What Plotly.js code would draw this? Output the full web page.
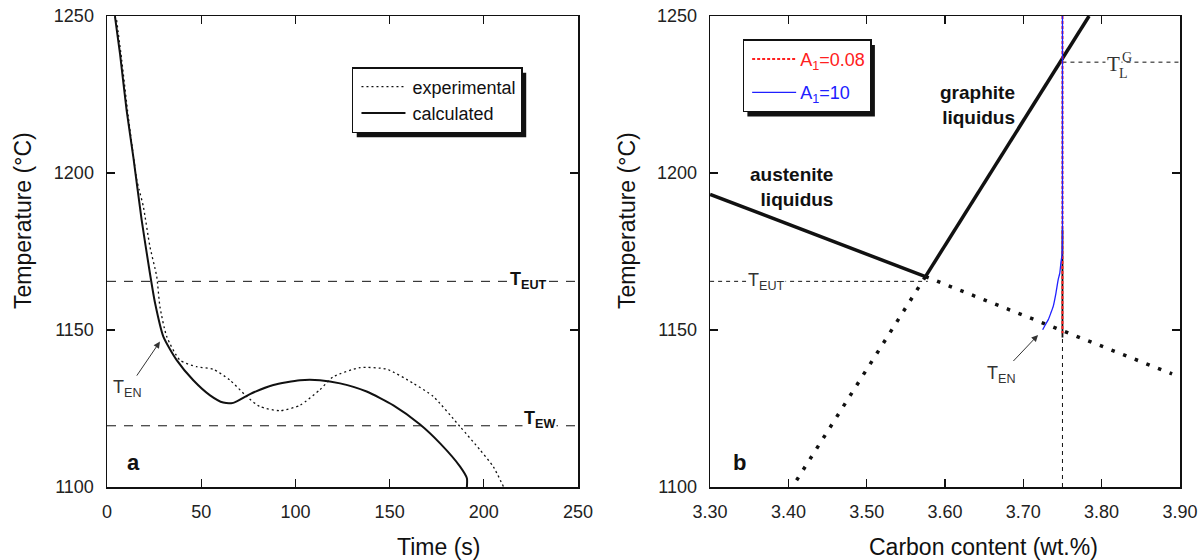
<!DOCTYPE html>
<html>
<head>
<meta charset="utf-8">
<script src="https://cdn.plot.ly/plotly-3.0.1.min.js"></script>
<style>html,body{margin:0;padding:0;background:#fff;}#chart{width:1204px;height:560px;}</style>
</head>
<body>
<div id="chart"></div>
<script>
// ---------- Panel a: cooling curves ----------
var timeTicks = [0, 50, 100, 150, 200, 250];
var tempTicks = [1100, 1150, 1200, 1250];

var expTime = [5.1, 7.8, 11.3, 15.8, 17.1, 19.3, 22.8, 26.4, 28.1, 31.7, 38.7, 47.6, 56.4, 65.3, 74.2, 81.2, 91.8, 102.4, 113.0, 120.1, 134.3, 148.5, 162.6, 173.2, 187.4, 198.0, 205.0, 210.5];
var expTemp = [1248.7, 1236, 1217.9, 1197.8, 1194.6, 1189.3, 1176.5, 1167, 1157.4, 1147.9, 1140.4, 1138.3, 1137.5, 1134, 1128.8, 1125.6, 1124.3, 1126, 1131, 1135.1, 1138, 1137.5, 1133, 1128.8, 1119.2, 1111.8, 1106.5, 1100];

var calcTime = [4.2, 6.9, 10.4, 14.0, 18.4, 22.8, 25.5, 29.9, 37.0, 45.8, 54.7, 61.7, 67.0, 75.9, 88.3, 102.4, 113.0, 123.7, 137.8, 152.0, 166.0, 176.8, 187.4, 191.0, 191.0];
var calcTemp = [1250, 1238, 1220, 1205, 1185, 1168, 1158.6, 1147.9, 1140.4, 1134, 1129.2, 1126.9, 1126.8, 1129.6, 1132.5, 1134, 1134, 1133, 1130.4, 1126, 1120, 1113.9, 1106.5, 1102.8, 1100];

var timeSpan = [0, 250];
var tEUT = 1165.5;
var tEW = 1119.5;

// ---------- Panel b: phase diagram ----------
var carbonTicks = [3.3, 3.4, 3.5, 3.6, 3.7, 3.8, 3.9];
var carbonTickText = ['3.30', '3.40', '3.50', '3.60', '3.70', '3.80', '3.90'];

var austC = [3.30, 3.575];
var austT = [1193.2, 1167];
var austExtC = [3.575, 3.89];
var austExtT = [1167, 1136];
var graphC = [3.575, 3.784];
var graphT = [1167, 1250];
var graphExtC = [3.575, 3.405];
var graphExtT = [1167, 1100];

var eutC = [3.30, 3.578];
var eutT = [1165.5, 1165.5];
var tlgC = [3.75, 3.90];
var tlgT = [1235.3, 1235.3];
var vertC = [3.75, 3.75];
var vertT = [1100, 1235.3];

var a008C = [3.75, 3.75];
var a008T = [1250, 1149];
var a10C = [3.75, 3.75, 3.7495, 3.7481, 3.7465, 3.7446, 3.7415, 3.7383, 3.7350, 3.7319, 3.7280, 3.7247];
var a10T = [1250, 1180, 1174, 1171.6, 1168, 1166.1, 1161.5, 1157.6, 1155.3, 1153.3, 1151.6, 1150.1];
var blackC = [3.75, 3.75];
var blackT = [1182, 1147.6];

var FONT = '"Liberation Sans", Arial, Helvetica, sans-serif';
var SERIF = '"Liberation Serif", "Times New Roman", serif';
var INK = '#111';

var data = [
  // panel a
  {x: timeSpan, y: [tEUT, tEUT], xaxis: 'x', yaxis: 'y', mode: 'lines', showlegend: false, hoverinfo: 'skip',
   line: {color: INK, width: 1, dash: '9px,8px'}},
  {x: timeSpan, y: [tEW, tEW], xaxis: 'x', yaxis: 'y', mode: 'lines', showlegend: false, hoverinfo: 'skip',
   line: {color: INK, width: 1, dash: '9px,8px'}},
  {x: expTime, y: expTemp, xaxis: 'x', yaxis: 'y', mode: 'lines', name: 'experimental', legend: 'legend', legendgroup: 'g1',
   line: {color: INK, width: 1.3, dash: '2px,3px', shape: 'spline', smoothing: 0.6}},
  {x: calcTime, y: calcTemp, xaxis: 'x', yaxis: 'y', mode: 'lines', name: 'calculated', legend: 'legend', legendgroup: 'g2',
   line: {color: INK, width: 2, shape: 'spline', smoothing: 0.6}},
  // panel b
  {x: eutC, y: eutT, xaxis: 'x2', yaxis: 'y2', mode: 'lines', showlegend: false, line: {color: INK, width: 1, dash: '4px,4px'}},
  {x: tlgC, y: tlgT, xaxis: 'x2', yaxis: 'y2', mode: 'lines', showlegend: false, line: {color: INK, width: 1, dash: '4px,4px'}},
  {x: vertC, y: vertT, xaxis: 'x2', yaxis: 'y2', mode: 'lines', showlegend: false, line: {color: INK, width: 1, dash: '4px,4px'}},
  {x: austExtC, y: austExtT, xaxis: 'x2', yaxis: 'y2', mode: 'lines', showlegend: false, line: {color: INK, width: 3.5, dash: '3.5px,9px'}},
  {x: graphExtC, y: graphExtT, xaxis: 'x2', yaxis: 'y2', mode: 'lines', showlegend: false, line: {color: INK, width: 3.5, dash: '3.5px,9px'}},
  {x: austC, y: austT, xaxis: 'x2', yaxis: 'y2', mode: 'lines', showlegend: false, line: {color: INK, width: 3.5}},
  {x: graphC, y: graphT, xaxis: 'x2', yaxis: 'y2', mode: 'lines', showlegend: false, line: {color: INK, width: 3.5}},
  {x: blackC, y: blackT, xaxis: 'x2', yaxis: 'y2', mode: 'lines', showlegend: false, line: {color: INK, width: 1.8}},
  {x: a008C, y: a008T, xaxis: 'x2', yaxis: 'y2', mode: 'lines', legend: 'legend2', legendgroup: 'g3',
   name: '<span style="color:#ff2020">A<sub>1</sub>=0.08</span>',
   line: {color: '#ff2020', width: 2, dash: '3px,2px'}},
  {x: a10C, y: a10T, xaxis: 'x2', yaxis: 'y2', mode: 'lines', legend: 'legend2', legendgroup: 'g4',
   name: '<span style="color:#2020ff">A<sub>1</sub>=10</span>',
   line: {color: '#2020ff', width: 1.3, shape: 'spline', smoothing: 0.5}}
];

function axisBase() {
  return {
    ticks: 'inside', ticklen: 8, tickwidth: 1.3, tickcolor: INK,
    showline: true, linecolor: INK, linewidth: 1.5, mirror: 'ticks',
    showgrid: false, zeroline: false, ticklabelstandoff: 8,
    tickfont: {family: FONT, size: 18, color: '#222'}
  };
}

var xa = axisBase(); xa.domain = [0, 0.439]; xa.range = [0, 250]; xa.tickvals = timeTicks; xa.anchor = 'y';
var ya = axisBase(); ya.domain = [0, 1]; ya.range = [1100, 1250]; ya.tickvals = tempTicks; ya.anchor = 'x';
var xb = axisBase(); xb.domain = [0.562, 1]; xb.range = [3.2999, 3.9001]; xb.tickvals = carbonTicks; xb.ticktext = carbonTickText; xb.anchor = 'y2';
var yb = axisBase(); yb.domain = [0, 1]; yb.range = [1100, 1250]; yb.tickvals = tempTicks; yb.anchor = 'x2';

function note(text, x, y, xref, yref, extra) {
  var a = {text: text, x: x, y: y, xref: xref, yref: yref, showarrow: false,
           xanchor: 'center', yanchor: 'middle', font: {family: FONT, size: 18, color: INK}};
  for (var k in extra) a[k] = extra[k];
  return a;
}

var annotations = [
  // axis titles
  note('Time (s)', 0.3085, -0.1274, 'paper', 'paper', {font: {family: FONT, size: 23, color: INK}}),
  note('Carbon content (wt.%)', 0.8173, -0.1274, 'paper', 'paper', {font: {family: FONT, size: 23, color: INK}}),
  note('Temperature (°C)', -0.0783, 0.5669, 'paper', 'paper', {textangle: -90, font: {family: FONT, size: 23, color: INK}}),
  note('Temperature (°C)', 0.4846, 0.5669, 'paper', 'paper', {textangle: -90, font: {family: FONT, size: 23, color: INK}}),
  // panel a
  note('T<sub>EUT</sub>', 223.5, 1165.9, 'x', 'y', {bgcolor: 'white', font: {family: FONT, size: 18, color: INK, weight: 'bold'}}),
  note('T<sub>EW</sub>', 229.8, 1121.5, 'x', 'y', {bgcolor: 'white', font: {family: FONT, size: 18, color: INK, weight: 'bold'}}),
  note('a', 14.1, 1107.8, 'x', 'y', {font: {family: FONT, size: 22, color: INK, weight: 'bold'}}),
  {text: 'T<sub>EN</sub>', x: 28.1, y: 1146.3, xref: 'x', yref: 'y', ax: -32, ay: 47, showarrow: true,
   arrowhead: 2, arrowsize: 1.3, arrowwidth: 1, arrowcolor: '#333', standoff: 0, startstandoff: 0,
   font: {family: FONT, size: 18, color: '#333'}},
  // panel b
  note('austenite<br>liquidus', 3.4594, 1195.7, 'x2', 'y2', {xanchor: 'right', align: 'right', font: {family: FONT, size: 19, color: INK, weight: 'bold'}}),
  note('graphite<br>liquidus', 3.6916, 1221.8, 'x2', 'y2', {xanchor: 'right', align: 'right', font: {family: FONT, size: 19, color: INK, weight: 'bold'}}),
  note('b', 3.3376, 1107.8, 'x2', 'y2', {font: {family: FONT, size: 22, color: INK, weight: 'bold'}}),
  note('T<sub>EUT</sub>', 3.3714, 1165.3, 'x2', 'y2', {bgcolor: 'white', font: {family: FONT, size: 18, color: '#333'}}),
  {text: 'T<sub>EN</sub>', x: 3.7188, y: 1148.4, xref: 'x2', yref: 'y2', ax: -37, ay: 39, showarrow: true,
   arrowhead: 2, arrowsize: 1.3, arrowwidth: 1, arrowcolor: '#333', standoff: 0, startstandoff: 0,
   font: {family: FONT, size: 18, color: '#333'}},
  note('T', 3.8153, 1234.6, 'x2', 'y2', {bgcolor: 'white', font: {family: SERIF, size: 21, color: '#333'}}),
  note('L', 3.8274, 1231.6, 'x2', 'y2', {font: {family: SERIF, size: 14, color: '#333'}}),
  note('G', 3.8319, 1236.9, 'x2', 'y2', {font: {family: SERIF, size: 14, color: '#333'}})
];

var layout = {
  width: 1204, height: 560,
  margin: {l: 107, r: 24, t: 16, b: 73, pad: 0},
  paper_bgcolor: 'white', plot_bgcolor: 'white',
  font: {family: FONT, size: 18, color: INK},
  showlegend: true,
  xaxis: xa, yaxis: ya, xaxis2: xb, yaxis2: yb,
  legend: {x: 0.2283, y: 0.8917, xanchor: 'left', yanchor: 'top', bgcolor: 'white', itemwidth: 49,
           bordercolor: INK, borderwidth: 1.5, font: {family: FONT, size: 18, color: INK}, tracegroupgap: 0},
  legend2: {x: 0.5924, y: 0.9505, xanchor: 'left', yanchor: 'top', bgcolor: 'white', itemwidth: 46,
            bordercolor: INK, borderwidth: 1.5, font: {family: FONT, size: 18, color: INK}, tracegroupgap: 7},
  annotations: annotations
};

function stretchLegendSamples() {
  // lengthen the legend line samples to match the item width
  [['legend', 44], ['legend2', 44]].forEach(function (p) {
    var paths = gd.querySelectorAll('g.' + p[0] + ' g.legendlines path');
    paths.forEach(function (el) { el.setAttribute('d', 'M8,0h' + p[1]); });
  });
}

var gd = document.getElementById('chart');
Plotly.newPlot(gd, data, layout, {displayModeBar: false, staticPlot: true}).then(function () {
  var sz = gd._fullLayout._size;
  var root = gd.getBoundingClientRect();
  var shapes = [];
  ['legend', 'legend2'].forEach(function (id) {
    var bg = gd.querySelector('g.' + id + ' rect.bg');
    if (!bg) return;
    var r = bg.getBoundingClientRect();
    var x0 = r.left - root.left + 4, x1 = r.right - root.left + 4;
    var y0 = r.top - root.top + 5, y1 = r.bottom - root.top + 5;
    shapes.push({type: 'rect', xref: 'paper', yref: 'paper', layer: 'above',
      x0: (x0 - sz.l) / sz.w, x1: (x1 - sz.l) / sz.w,
      y0: 1 - (y0 - sz.t) / sz.h, y1: 1 - (y1 - sz.t) / sz.h,
      fillcolor: INK, line: {width: 0}});
  });
  return Plotly.relayout(gd, {shapes: shapes});
}).then(stretchLegendSamples);
</script>
</body>
</html>
